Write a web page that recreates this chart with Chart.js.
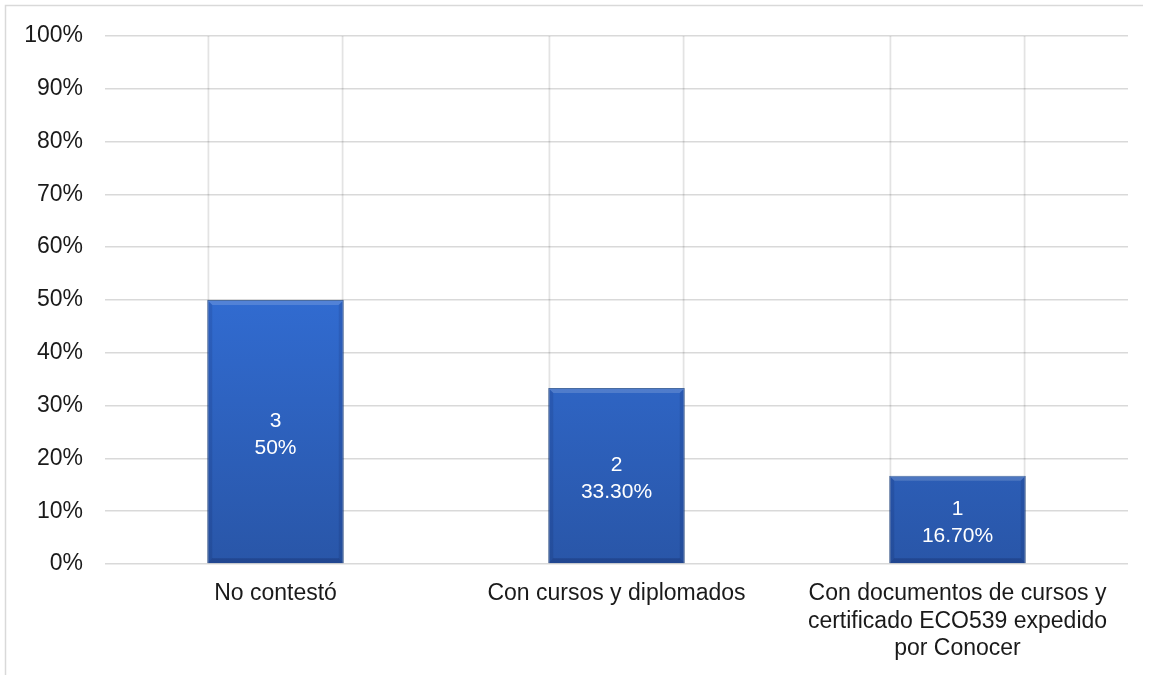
<!DOCTYPE html>
<html>
<head>
<meta charset="utf-8">
<script src="https://cdn.jsdelivr.net/npm/chart.js@4/dist/chart.umd.min.js"></script>
<style>
  html, body { margin: 0; padding: 0; background: #fff; }
  #wrap { position: relative; width: 1153px; height: 675px; }
  canvas { display: block; }
</style>
</head>
<body>
<div id="wrap"><canvas id="c" width="1153" height="675"></canvas></div>
<script>
const categories = [
  'No contestó',
  'Con cursos y diplomados',
  ['Con documentos de cursos y', 'certificado ECO539 expedido', 'por Conocer']
];
const counts = [3, 2, 1];
const shares = [0.50, 0.333, 0.167];
const shareLabels = ['50%', '33.30%', '16.70%'];
const fullColumn = [1, 1, 1];
const yTicks = { min: 0, max: 1, step: 0.1 };

const FONT = "'Liberation Sans', Arial, sans-serif";

function barGradient(ctx) {
  const chart = ctx.chart;
  const area = chart.chartArea;
  if (!area) return '#2f68c8';
  const g = chart.ctx.createLinearGradient(0, area.top, 0, area.bottom);
  g.addColorStop(0, '#3d7ee4');
  g.addColorStop(0.5, '#316bd0');
  g.addColorStop(1, '#2956a8');
  return g;
}

const framePlugin = {
  id: 'frame',
  afterDraw(chart) {
    const c = chart.ctx;
    c.save();
    c.strokeStyle = '#d9d9d9';
    c.lineWidth = 1.5;
    c.beginPath();
    c.moveTo(5.5, 675);
    c.lineTo(5.5, 5.5);
    c.lineTo(1143, 5.5);
    c.stroke();
    c.restore();
  }
};

const bevelPlugin = {
  id: 'bevel',
  afterDatasetsDraw(chart) {
    const meta = chart.getDatasetMeta(0);
    const c = chart.ctx;
    c.save();
    meta.data.forEach((bar, i) => {
      const p = bar.getProps(['x', 'y', 'base', 'width'], true);
      const l = p.x - p.width / 2, r = p.x + p.width / 2, t = p.y, b = p.base;
      const d = 5;
      c.fillStyle = 'rgba(255,255,255,0.16)';
      c.beginPath();
      c.moveTo(l, t); c.lineTo(r, t); c.lineTo(r - d, t + d); c.lineTo(l + d, t + d); c.closePath(); c.fill();
      c.fillStyle = 'rgba(0,0,40,0.10)';
      c.beginPath();
      c.moveTo(l, t); c.lineTo(l + d, t + d); c.lineTo(l + d, b - d); c.lineTo(l, b); c.closePath(); c.fill();
      c.beginPath();
      c.moveTo(r, t); c.lineTo(r - d, t + d); c.lineTo(r - d, b - d); c.lineTo(r, b); c.closePath(); c.fill();
      c.fillStyle = 'rgba(0,0,40,0.18)';
      c.beginPath();
      c.moveTo(l, b); c.lineTo(l + d, b - d); c.lineTo(r - d, b - d); c.lineTo(r, b); c.closePath(); c.fill();
      const mid = (t + b) / 2;
      c.fillStyle = '#ffffff';
      c.font = '21px ' + FONT;
      c.textAlign = 'center';
      c.textBaseline = 'middle';
      c.fillText(String(counts[i]), p.x, mid - 10);
      c.fillText(shareLabels[i], p.x, mid + 17);
    });
    c.restore();
  }
};

new Chart(document.getElementById('c'), {
  type: 'bar',
  data: {
    labels: categories,
    datasets: [
      {
        data: shares,
        grouped: false,
        order: 0,
        backgroundColor: barGradient,
        borderColor: '#27508f',
        borderWidth: 1,
        categoryPercentage: 1,
        barPercentage: 0.4
      },
      {
        data: fullColumn,
        grouped: false,
        order: 1,
        backgroundColor: 'rgba(0,0,0,0)',
        borderColor: 'rgba(0,0,0,0.11)',
        borderWidth: { left: 2, right: 2, top: 0, bottom: 0 },
        categoryPercentage: 1,
        barPercentage: 0.4
      }
    ]
  },
  options: {
    responsive: false,
    animation: false,
    devicePixelRatio: 1,
    layout: { padding: { top: 35, right: 25, left: 0, bottom: 0 } },
    plugins: {
      legend: { display: false },
      tooltip: { enabled: false }
    },
    scales: {
      x: {
        grid: { display: false, drawTicks: false },
        border: { display: false },
        ticks: {
          color: '#1a1a1a',
          font: { family: FONT, size: 23, lineHeight: 1.2 },
          padding: 16,
          maxRotation: 0,
          autoSkip: false
        },
        afterFit(scale) { scale.height = 111; }
      },
      y: {
        min: yTicks.min,
        max: yTicks.max,
        grid: { color: '#d9d9d9', lineWidth: 1.5, drawTicks: false },
        border: { display: false },
        ticks: {
          stepSize: yTicks.step,
          color: '#1a1a1a',
          font: { family: FONT, size: 23 },
          padding: 22,
          callback: v => Math.round(v * 100) + '%'
        },
        afterFit(scale) { scale.width = 105; }
      }
    }
  },
  plugins: [framePlugin, bevelPlugin]
});
</script>
</body>
</html>
